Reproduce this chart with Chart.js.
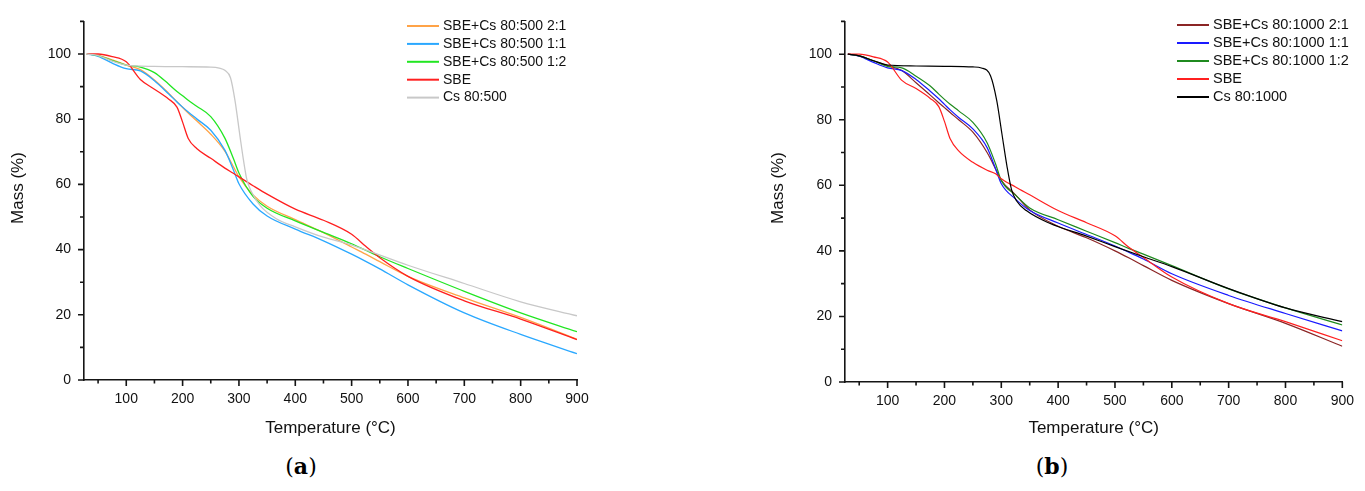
<!DOCTYPE html>
<html>
<head>
<meta charset="utf-8">
<script src="https://cdn.jsdelivr.net/npm/chart.js@4"></script>
<style>
  html, body { margin: 0; padding: 0; background: #fff; }
  body { width: 1365px; height: 491px; position: relative; overflow: hidden; }
  canvas { position: absolute; top: 0; }
  #chartA { left: 0; }
  #chartB { left: 760px; }
  .sub { position: absolute; top: 453px; line-height: 26px; font-family: 'DejaVu Serif', serif; font-size: 22px; color: #000; transform: translateX(-50%); }
</style>
</head>
<body>
<canvas id="chartA" width="600" height="445"></canvas>
<canvas id="chartB" width="605" height="445"></canvas>
<div class="sub" style="left:301px">(<b>a</b>)</div>
<div class="sub" style="left:1052px">(<b>b</b>)</div>
<script>
// temperatures shared by the SBE and SBE+Cs curves
var temps = [30, 50, 75, 100, 125, 150, 175, 190, 200, 210, 225, 250, 275, 290, 300, 325, 350, 400, 450, 500, 525, 550, 600, 700, 800, 900];

// (a) 80:500
var massA21  = [100, 99.6, 98.2, 96.6, 95.2, 92.0, 88.0, 85.4, 83.6, 81.9, 79.5, 75.4, 70.2, 65.5, 62.3, 56.8, 53.3, 49.2, 45.2, 40.8, 38.6, 36.3, 31.8, 25.2, 19.2, 12.5];
var massA11  = [100, 99.3, 97.2, 95.5, 94.8, 91.8, 87.8, 85.3, 83.7, 82.2, 80.1, 76.6, 70.5, 64.5, 60.2, 54.0, 50.3, 46.3, 42.7, 38.6, 36.4, 34.1, 29.2, 20.6, 14.0, 8.1];
var massA12  = [100, 99.5, 98.0, 96.6, 96.0, 94.3, 90.8, 88.5, 87.2, 85.8, 84.0, 80.8, 74.2, 68.0, 63.5, 56.3, 52.7, 48.8, 45.3, 41.8, 39.8, 37.8, 34.2, 27.2, 20.6, 14.8];
var massSbeA = [100, 100, 99.2, 97.6, 92.2, 89.2, 86.2, 83.7, 79.1, 74.1, 71.0, 68.0, 65.0, 63.4, 62.3, 59.6, 57.0, 52.4, 49.0, 44.7, 41.0, 37.5, 31.8, 24.3, 18.7, 12.4];
var tempsCsA = [30, 50, 75, 100, 150, 200, 250, 265, 275, 285, 293, 302, 308, 314, 323, 338, 367, 400, 450, 500, 600, 700, 800, 900];
var massCsA  = [100, 99.5, 97.8, 96.6, 96.2, 96.1, 96.0, 95.7, 95.0, 92.7, 85.7, 74.6, 67.5, 61.5, 57.5, 53.4, 49.4, 47.0, 43.8, 41.4, 35.2, 29.6, 24.0, 19.7];

// (b) 80:1000
var massB21  = [100, 99.5, 98.0, 96.5, 95.0, 91.3, 87.5, 85.2, 83.7, 82.2, 80.0, 76.2, 70.0, 65.0, 61.5, 57.1, 52.5, 47.5, 44.0, 40.0, 37.8, 35.5, 31.0, 23.9, 17.9, 10.9];
var massB11  = [100, 99.4, 97.5, 95.8, 95.0, 92.3, 88.7, 86.4, 84.7, 83.0, 80.7, 77.2, 71.5, 65.0, 60.5, 55.8, 52.3, 48.5, 45.0, 41.5, 39.5, 37.5, 33.0, 26.4, 20.9, 15.6];
var massB12  = [100, 99.5, 98.0, 96.3, 95.8, 93.3, 90.3, 87.8, 86.2, 84.7, 82.7, 79.2, 73.0, 66.5, 61.5, 57.0, 53.1, 49.5, 46.0, 42.5, 40.7, 39.0, 35.5, 28.4, 22.6, 17.4];
var massSbeB = [100, 100, 99.2, 97.6, 92.0, 89.5, 86.5, 84.0, 79.5, 74.2, 70.5, 67.0, 64.6, 63.5, 62.0, 59.5, 57.1, 52.3, 48.6, 44.6, 41.0, 38.0, 32.0, 23.9, 18.4, 12.6];
var tempsCsB = [30, 50, 75, 100, 150, 200, 250, 265, 281, 292, 301, 310, 318, 327, 344, 384, 450, 500, 550, 600, 700, 800, 900];
var massCsB  = [100, 99.5, 98.0, 96.7, 96.4, 96.3, 96.1, 95.8, 93.4, 85.8, 75.8, 65.8, 58.7, 55.2, 52.3, 48.5, 44.5, 41.3, 38.2, 35.2, 28.5, 22.6, 18.4];

var xTicks = [100, 200, 300, 400, 500, 600, 700, 800, 900];
var yTicks = [0, 20, 40, 60, 80, 100];
var xMinor = [50, 150, 250, 350, 450, 550, 650, 750, 850];
var yMinor = [10, 30, 50, 70, 90, 110];

var FONT = "'Liberation Sans', Arial, sans-serif";
var AXIS = '#151515';

function pts(t, m) {
    return t.map(function (v, i) { return { x: v, y: m[i] }; });
}

// hand-drawn tick marks (major + minor), outward like Origin, plus the y title
var tickMarks = {
    id: 'tickMarks',
    afterDraw: function (chart, args, opts) {
        var ctx = chart.ctx, sx = chart.scales.x, sy = chart.scales.y, a = chart.chartArea;
        ctx.save();
        ctx.strokeStyle = AXIS;
        ctx.lineWidth = 1.6;
        ctx.beginPath();
        xTicks.forEach(function (v) { var p = sx.getPixelForValue(v); ctx.moveTo(p, a.bottom); ctx.lineTo(p, a.bottom + 6); });
        xMinor.forEach(function (v) { var p = sx.getPixelForValue(v); ctx.moveTo(p, a.bottom); ctx.lineTo(p, a.bottom + 3.5); });
        yTicks.forEach(function (v) { var p = sy.getPixelForValue(v); ctx.moveTo(a.left, p); ctx.lineTo(a.left - 6, p); });
        yMinor.forEach(function (v) { var p = sy.getPixelForValue(v); ctx.moveTo(a.left, p); ctx.lineTo(a.left - 4, p); });
        ctx.stroke();

        // y title sits a little above the axis centre in the figure
        ctx.translate(opts.titleX, opts.titleY);
        ctx.rotate(-Math.PI / 2);
        ctx.font = '17px ' + FONT;
        ctx.fillStyle = '#111';
        ctx.textAlign = 'center';
        ctx.textBaseline = 'middle';
        ctx.fillText('Mass (%)', 0, 0);
        ctx.restore();
    }
};

// legend in the top right corner, as in the figure
var boxLegend = {
    id: 'boxLegend',
    afterDraw: function (chart, args, opts) {
        var ctx = chart.ctx;
        ctx.save();
        ctx.font = opts.font;
        ctx.textBaseline = 'middle';
        ctx.fillStyle = '#111';
        chart.data.datasets.forEach(function (ds, i) {
            var y = opts.top + i * opts.step;
            ctx.strokeStyle = ds.borderColor;
            ctx.lineWidth = 2;
            ctx.beginPath();
            ctx.moveTo(opts.left, y);
            ctx.lineTo(opts.left + opts.line, y);
            ctx.stroke();
            ctx.fillText(ds.label, opts.left + opts.line + opts.gap, y);
        });
        ctx.restore();
    }
};

function makeChart(id, sets, cfg) {
    var n = sets.length;
    new Chart(document.getElementById(id), {
        type: 'line',
        data: {
            datasets: sets.map(function (s, i) {
                return {
                    label: s[0], data: s[1], borderColor: s[2],
                    borderWidth: cfg.lw, order: n - i,
                    pointRadius: 0, fill: false, cubicInterpolationMode: 'monotone'
                };
            })
        },
        options: {
            responsive: false,
            animation: false,
            layout: { padding: { top: cfg.top, right: cfg.right, left: 0, bottom: 0 } },
            plugins: {
                legend: { display: false },
                tooltip: { enabled: false },
                boxLegend: cfg.legend,
                tickMarks: { titleX: 18, titleY: 188 }
            },
            scales: {
                x: {
                    type: 'linear', min: 25, max: 900,
                    afterBuildTicks: function (s) { s.ticks = xTicks.map(function (v) { return { value: v }; }); },
                    afterFit: function (s) { s.height = cfg.xh; },
                    grid: { display: false, drawTicks: false },
                    border: { display: true, color: AXIS, width: 1.6 },
                    ticks: { padding: 11, color: '#111', autoSkip: false, maxRotation: 0, font: { family: FONT, size: 14 } },
                    title: { display: true, text: 'Temperature (°C)', color: '#111', font: { family: FONT, size: 17 }, padding: { top: 0, bottom: 6 } }
                },
                y: {
                    min: 0, max: 110,
                    afterBuildTicks: function (s) { s.ticks = yTicks.map(function (v) { return { value: v }; }); },
                    afterFit: function (s) { s.width = cfg.yw; },
                    grid: { display: false, drawTicks: false },
                    border: { display: true, color: AXIS, width: 1.6 },
                    ticks: { padding: 13, color: '#111', font: { family: FONT, size: 14 } }
                }
            }
        },
        plugins: [tickMarks, boxLegend]
    });
}

makeChart('chartA', [
    ['SBE+Cs 80:500 2:1', pts(temps, massA21), '#ffa347'],
    ['SBE+Cs 80:500 1:1', pts(temps, massA11), '#2aa8ff'],
    ['SBE+Cs 80:500 1:2', pts(temps, massA12), '#22e622'],
    ['SBE', pts(temps, massSbeA), '#ff2020'],
    ['Cs 80:500', pts(tempsCsA, massCsA), '#c8c8c8']
], { lw: 1.3, top: 16, right: 23, yw: 84, xh: 65,
     legend: { left: 407, top: 26, step: 17.9, line: 32, gap: 4, font: '14px ' + FONT } });

makeChart('chartB', [
    ['SBE+Cs 80:1000 2:1', pts(temps, massB21), '#8b2525'],
    ['SBE+Cs 80:1000 1:1', pts(temps, massB11), '#1a1aff'],
    ['SBE+Cs 80:1000 1:2', pts(temps, massB12), '#1f8a1f'],
    ['SBE', pts(temps, massSbeB), '#ff2020'],
    ['Cs 80:1000', pts(tempsCsB, massCsB), '#000000']
], { lw: 1.2, top: 16, right: 13, yw: 85, xh: 63,
     legend: { left: 417, top: 25, step: 18, line: 32, gap: 4, font: '14.5px ' + FONT } });
</script>
</body>
</html>
